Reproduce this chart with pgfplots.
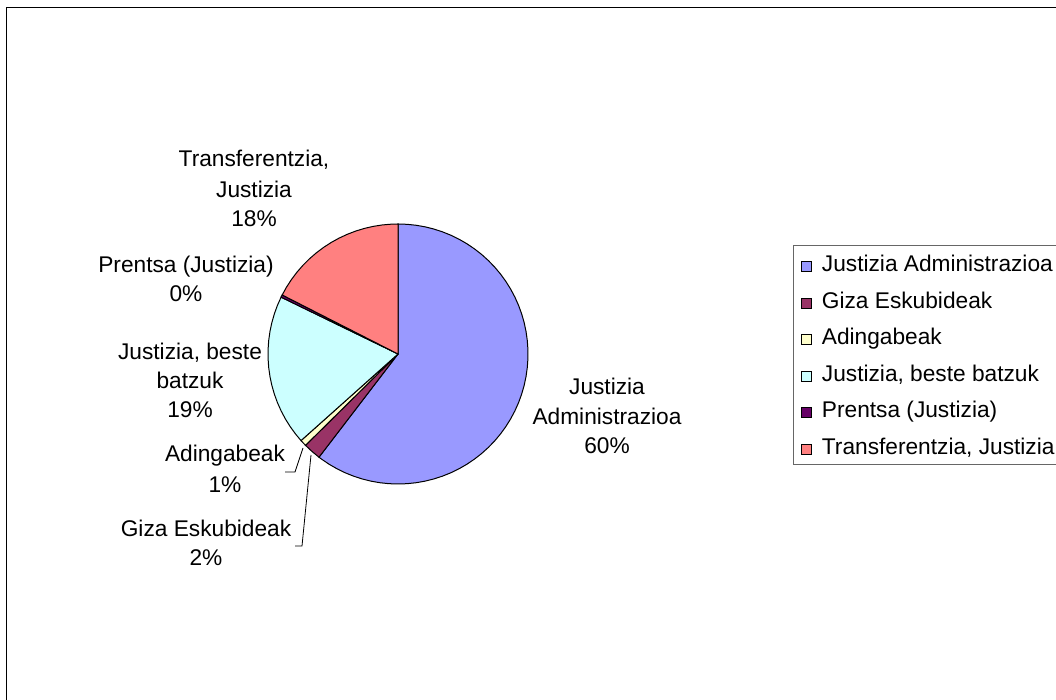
\documentclass[border=0pt]{standalone}
\usepackage{pgfplots}
\pgfplotsset{compat=1.18}
\usepgfplotslibrary{polar}
\usepackage{fontspec}
\setmainfont{Liberation Sans}
\definecolor{cBlue}{HTML}{9999FF}
\definecolor{cGiza}{HTML}{993366}
\definecolor{cAding}{HTML}{FFFFCC}
\definecolor{cCyan}{HTML}{CCFFFF}
\definecolor{cPrent}{HTML}{660066}
\definecolor{cPink}{HTML}{FF8080}
\begin{document}
\fontsize{22.7pt}{30pt}\selectfont
\begin{tikzpicture}[x=1pt,y=1pt]
\path[use as bounding box] (0,0) rectangle (1056,700);
\clip (0,0) rectangle (1056,700);
\draw[line width=1.6pt] (6.5,0) -- (6.5,692.5) -- (1060,692.5);
\begin{polaraxis}[
  hide axis, scale only axis, width=260pt, height=260pt,
  xmin=0, xmax=360, ymin=0, ymax=1, clip=false, no markers,
  anchor=origin, at={(398pt,346pt)},
  legend style={at={(2.019,0.919)}, anchor=north west, draw=black!60, line width=1pt,
    inner xsep=8pt, inner ysep=9pt, row sep=18.6pt,
    nodes={inner sep=0pt, text height=17pt, text depth=1pt, font=\fontsize{22.7pt}{30pt}\selectfont}},
  legend cell align=left,
  legend image code/.code={\draw[#1, draw=black, line width=1pt] (0pt,-8pt) rectangle (10pt,2pt); \path[draw=none, fill=none] (0pt,0pt) -- (20pt,0pt);},
]
% values (percent): 60.4, 2.2, 0.8, 18.8, 0.3, 17.5 ; clockwise from 12 o'clock
\addplot[fill=cBlue, draw=black, line width=1pt] coordinates {(0,0) (90,1) (86,1) (82,1) (78,1) (74,1) (70,1) (66,1) (62,1) (58,1) (54,1) (50,1) (46,1) (42,1) (38,1) (34,1) (30,1) (26,1) (22,1) (18,1) (14,1) (10,1) (6,1) (2,1) (-2,1) (-6,1) (-10,1) (-14,1) (-18,1) (-22,1) (-26,1) (-30,1) (-34,1) (-38,1) (-42,1) (-46,1) (-50,1) (-54,1) (-58,1) (-62,1) (-66,1) (-70,1) (-74,1) (-78,1) (-82,1) (-86,1) (-90,1) (-94,1) (-98,1) (-102,1) (-106,1) (-110,1) (-114,1) (-118,1) (-122,1) (-126,1) (-127.44,1)} -- cycle;
\addlegendentry{Justizia Administrazioa}
\addplot[fill=cGiza, draw=black, line width=1pt] coordinates {(0,0) (-127.44,1) (-131.4,1) (-135.36,1)} -- cycle;
\addlegendentry{Giza Eskubideak}
\addplot[fill=cAding, draw=black, line width=1pt] coordinates {(0,0) (-135.36,1) (-136.8,1) (-138.24,1)} -- cycle;
\addlegendentry{Adingabeak}
\addplot[fill=cCyan, draw=black, line width=1pt] coordinates {(0,0) (-138.24,1) (-142,1) (-146,1) (-150,1) (-154,1) (-158,1) (-162,1) (-166,1) (-170,1) (-174,1) (-178,1) (-182,1) (-186,1) (-190,1) (-194,1) (-198,1) (-202,1) (-205.92,1)} -- cycle;
\addlegendentry{Justizia, beste batzuk}
\addplot[fill=cPrent, draw=black, line width=1pt] coordinates {(0,0) (-205.92,1) (-207,1)} -- cycle;
\addlegendentry{Prentsa (Justizia)}
\addplot[fill=cPink, draw=black, line width=1pt] coordinates {(0,0) (-207,1) (-211,1) (-215,1) (-219,1) (-223,1) (-227,1) (-231,1) (-235,1) (-239,1) (-243,1) (-247,1) (-251,1) (-255,1) (-259,1) (-263,1) (-267,1) (-270,1)} -- cycle;
\addlegendentry{Transferentzia, Justizia}
\end{polaraxis}
% data labels (one node per line, at baselines)
\node[anchor=base, inner sep=0pt] at (254,533) {Transferentzia,};
\node[anchor=base, inner sep=0pt] at (254,502) {Justizia};
\node[anchor=base, inner sep=0pt] at (254,473) {18\%};
\node[anchor=base, inner sep=0pt] at (186,427) {Prentsa (Justizia)};
\node[anchor=base, inner sep=0pt] at (186,398) {0\%};
\node[anchor=base, inner sep=0pt] at (190,340) {Justizia, beste};
\node[anchor=base, inner sep=0pt] at (190,311) {batzuk};
\node[anchor=base, inner sep=0pt] at (190,282) {19\%};
\node[anchor=base, inner sep=0pt] at (225,238) {Adingabeak};
\node[anchor=base, inner sep=0pt] at (225,207) {1\%};
\node[anchor=base, inner sep=0pt] at (206,163) {Giza Eskubideak};
\node[anchor=base, inner sep=0pt] at (206,134) {2\%};
\node[anchor=base, inner sep=0pt] at (607,305) {Justizia};
\node[anchor=base, inner sep=0pt] at (607,275) {Administrazioa};
\node[anchor=base, inner sep=0pt] at (607,246) {60\%};
\draw[line width=0.8pt] (285,228) -- (295,228) -- (303,252);
\draw[line width=0.8pt] (295,154) -- (302,154) -- (311,245);
\end{tikzpicture}
\end{document}
